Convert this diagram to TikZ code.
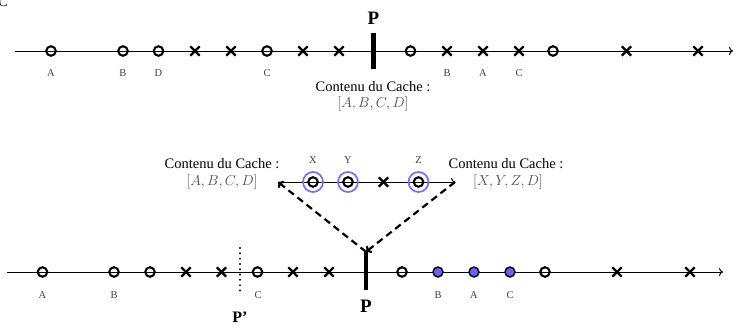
\documentclass[tikz,border=0pt]{standalone}
\usepackage{fontspec}
\setmainfont{Liberation Serif}
\usetikzlibrary{shapes.misc,arrows.meta}
\definecolor{ringB}{RGB}{112,112,250}
\definecolor{fillB}{RGB}{100,100,245}
\tikzset{
  tline/.style={line width=1pt,-{To[length=4pt,width=8pt]}},
  circm/.style={circle,draw,line width=2.1pt,minimum size=9.5pt,inner sep=0pt},
  crossm/.style={cross out,draw,line width=2.3pt,minimum size=7pt,inner sep=0pt},
  fillm/.style={circm,fill=fillB,line width=1.4pt,minimum size=10pt},
  ringm/.style={circle,draw=ringB,line width=1.7pt,minimum size=20pt,inner sep=0pt},
  pbar/.style={rectangle,fill=black,minimum width=4.2pt,inner sep=0pt},
  lbl/.style={font=\fontsize{10.5}{12}\selectfont,text=black!75,inner sep=0pt},
  plbl/.style={font=\bfseries\fontsize{19}{20}\selectfont,inner sep=0pt},
  ctxt/.style={font=\fontsize{14.5}{17}\selectfont,inner sep=0pt},
  mtxt/.style={font=\fontsize{14.5}{17}\selectfont,text=black!70,inner sep=0pt},
  dasharrow/.style={line width=2.2pt,dash pattern=on 7pt off 4.5pt,-{To[length=5pt,width=9pt]}},
  dotline/.style={line width=2.2pt,line cap=round,dash pattern=on 0pt off 5.3pt}
}
\begin{document}
\begin{tikzpicture}[x=1pt,y=-1pt]
\useasboundingbox (0,0) rectangle (733,325);
\node[anchor=base east,font=\fontsize{14}{14}\selectfont,inner sep=0pt] (cfrag) at (8,6.5) {C};

% ---------- top timeline ----------
\coordinate (ts) at (15,51);
\coordinate (te) at (733,51);
\draw[tline] (ts) -- (te);
\node[pbar,minimum height=36pt] (ptop) at (373.5,51) {};
\node[plbl] (ptoplbl) at (373.5,18) {P};
\node[circm] (t1) at (51,51) {};
\node[circm] (t3) at (123,51) {};
\node[circm] (t4) at (158.5,51) {};
\node[crossm] (t5) at (195,51) {};
\node[crossm] (t6) at (231,51) {};
\node[circm] (t7) at (267,51) {};
\node[crossm] (t8) at (303,51) {};
\node[crossm] (t9) at (339,51) {};
\node[circm] (t11) at (410.5,51) {};
\node[crossm] (t12) at (447,51) {};
\node[crossm] (t13) at (483,51) {};
\node[crossm] (t14) at (519,51) {};
\node[circm] (t15) at (553,51) {};
\node[crossm] (t17) at (626.5,51) {};
\node[crossm] (t19) at (698,51) {};
\node[lbl] (lt1) at (51,73) {A};
\node[lbl] (lt3) at (123,73) {B};
\node[lbl] (lt4) at (158.5,73) {D};
\node[lbl] (lt7) at (267,73) {C};
\node[lbl] (lt12) at (447,73) {B};
\node[lbl] (lt13) at (483,73) {A};
\node[lbl] (lt14) at (519,73) {C};
\node[ctxt] (tc1) at (373,87) {Contenu du Cache :};
\node[mtxt] (tc2) at (373,103.5) {$[A,B,C,D]$};

% ---------- middle (zoom) timeline ----------
\coordinate (ms) at (278,182);
\coordinate (me) at (455,182);
\draw[tline] (ms) -- (me);
\node[ringm] (rx) at (313,182) {};
\node[ringm] (ry) at (348,182) {};
\node[ringm] (rz) at (418.5,182) {};
\node[circm] (mx) at (313,182) {};
\node[circm] (my) at (348,182) {};
\node[crossm] (mc) at (383.5,182) {};
\node[circm] (mz) at (418.5,182) {};
\node[lbl] (lx) at (313,160) {X};
\node[lbl] (ly) at (348,160) {Y};
\node[lbl] (lz) at (418.5,160) {Z};
\node[ctxt] (lc1) at (222,164) {Contenu du Cache :};
\node[mtxt] (lc2) at (222,182) {$[A,B,C,D]$};
\node[ctxt] (rc1) at (506,164) {Contenu du Cache :};
\node[mtxt] (rc2) at (508,182) {$[X,Y,Z,D]$};

% ---------- bottom timeline ----------
\coordinate (bs) at (7,272);
\coordinate (be) at (723,272);
\draw[tline] (bs) -- (be);
\node[pbar,minimum height=38pt] (pbot) at (366,271) {};
\node[plbl] (pbotlbl) at (366,306) {P};
\coordinate (pp1) at (240,248);
\coordinate (pp2) at (240,294);
\draw[dotline] (pp1) -- (pp2);
\node[plbl,font=\bfseries\fontsize{16}{18}\selectfont] (pplbl) at (240,317) {P’};
\node[circm] (b1) at (42.5,272) {};
\node[circm] (b3) at (114,272) {};
\node[circm] (b4) at (150,272) {};
\node[crossm] (b5) at (186,272) {};
\node[crossm] (b6) at (221.5,272) {};
\node[circm] (b7) at (257.5,272) {};
\node[crossm] (b8) at (293,272) {};
\node[crossm] (b9) at (329,272) {};
\node[circm] (b11) at (402,272) {};
\node[fillm] (b12) at (438,272) {};
\node[fillm] (b13) at (474,272) {};
\node[fillm] (b14) at (510,272) {};
\node[circm] (b15) at (545,272) {};
\node[crossm] (b17) at (617,272) {};
\node[crossm] (b19) at (690,272) {};
\node[lbl] (lb1) at (42.5,295) {A};
\node[lbl] (lb3) at (114,295) {B};
\node[lbl] (lb7) at (258,295) {C};
\node[lbl] (lb12) at (438,295) {B};
\node[lbl] (lb13) at (474,295) {A};
\node[lbl] (lb14) at (510,295) {C};

% ---------- dashed connectors ----------
\draw[dasharrow] (pbot.north) -- (ms);
\draw[dasharrow] (me) -- (pbot.north);
\end{tikzpicture}
\end{document}
